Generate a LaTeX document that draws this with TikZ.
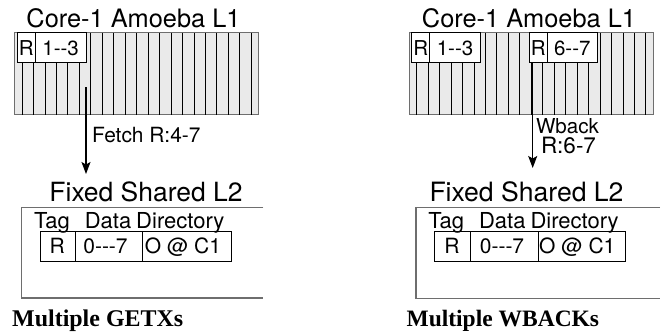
\documentclass[tikz,border=0pt]{standalone}
\usepackage{fontspec}
\usepackage{graphicx}
\setmainfont{Liberation Serif}
\newfontfamily\hv{TeX Gyre Heros}
\usetikzlibrary{arrows.meta}
\definecolor{stripefill}{HTML}{EAEAEA}
\definecolor{frame}{HTML}{6E6E6E}
\newcommand{\fitw}[2]{\resizebox{#1pt}{!}{\hv #2}}
\newcommand{\fitb}[2]{\resizebox{#1pt}{!}{\bfseries #2}}
\tikzset{
  x=1pt, y=-1pt,
  txt/.style={inner sep=0pt, outer sep=0pt, anchor=base},
  cellbox/.style={draw=black, line width=0.8pt, fill=white},
  stripes/.style={draw=frame, line width=0.8pt, fill=stripefill},
  stripeline/.style={draw=black, line width=0.7pt},
  l2frame/.style={draw=frame, line width=1.2pt},
  rowbox/.style={draw=black, line width=0.8pt},
  flow/.style={line width=1.3pt, -{Stealth[length=12pt, width=9pt, inset=2.5pt]}},
  caption/.style={inner sep=0pt, anchor=base west},
  headf/.style={font=\hv\fontsize{22}{24}\selectfont},
  rowf/.style={font=\hv\fontsize{21}{23}\selectfont},
  cellf/.style={font=\hv\fontsize{20.5}{22}\selectfont},
}
\begin{document}
\begin{tikzpicture}
\useasboundingbox (0,0) rectangle (662,333);

% ================= LEFT PANEL =================
\node[txt] (t1) at (133.5,27) {\fitw{214}{Core-1 Amoeba L1}};
\draw[stripes] (14.7,32.5) rectangle (258.3,114.5);
\foreach \k in {0,...,20} {
  \draw[stripeline] ({22+11.46*\k},32.5) -- ({22+11.46*\k},114.5);
}
\draw[cellbox] (17.3,32.5) rectangle (35.3,62);
\draw[cellbox] (35.3,32.5) rectangle (86,62);
\node[txt, cellf] (hR1) at (26.3,55) {R};
\node[txt, cellf] (h13) at (60.6,55) {1--3};

\coordinate (fs) at (86,87);
\coordinate (fe) at (86,174);
\draw[flow] (fs) -- (fe);
\node[txt, anchor=base west] (fetch) at (92,142.7) {\fitw{108.5}{Fetch R:4-7}};

\node[txt] (l2t1) at (146,201.5) {\fitw{193}{Fixed Shared L2}};
\draw[l2frame] (263.3,207.5) -- (21.7,207.5) -- (21.7,298) -- (263.3,298);
\node[txt, headf] (tag1) at (52,228.5) {Tag};
\node[txt, headf] (data1) at (108,228.5) {Data};
\node[txt, headf] (dir1) at (180.3,228.5) {Directory};
\draw[rowbox] (40,231) rectangle (231.7,261.5);
\draw[rowbox] (75,231) -- (75,261.5);
\draw[rowbox] (142.5,231) -- (142.5,261.5);
\node[txt, rowf] (r1) at (57.3,253) {R};
\node[txt, rowf] (d1) at (105.5,253) {0---7};
\node[txt, rowf] (o1) at (183,253) {O @ C1};

\node[caption] (cap1) at (12,326.7) {\fitb{171}{Multiple GETXs}};

% ================= RIGHT PANEL =================
\node[txt] (t2) at (529,27.5) {\fitw{214}{Core-1 Amoeba L1}};
\draw[stripes] (409.3,32.5) rectangle (653.3,114.5);
\foreach \k in {0,...,20} {
  \draw[stripeline] ({416.6+11.46*\k},32.5) -- ({416.6+11.46*\k},114.5);
}
\draw[cellbox] (411.7,32.5) rectangle (429.7,62);
\draw[cellbox] (429.7,32.5) rectangle (480.4,62);
\node[txt, cellf] (hR2) at (420.7,55) {R};
\node[txt, cellf] (h13b) at (455,55) {1--3};
\draw[cellbox] (529.3,32.5) rectangle (547.3,62);
\draw[cellbox] (547.3,32.5) rectangle (597.3,62);
\node[txt, cellf] (hR3) at (538.3,55) {R};
\node[txt, cellf] (h67) at (572.3,55) {6--7};

\coordinate (ws) at (532.7,62);
\coordinate (we) at (532.7,168);
\draw[flow] (ws) -- (we);
\node[txt, anchor=base west] (wb) at (536,133) {\fitw{63}{Wback}};
\node[txt, anchor=base west] (wr) at (541,153.3) {\fitw{55}{R:6-7}};

\node[txt] (l2t2) at (526.5,201) {\fitw{194}{Fixed Shared L2}};
\draw[l2frame] (660,207.7) -- (416,207.7) -- (416,298.3) -- (660,298.3);
\node[txt, headf] (tag2) at (446.3,228.5) {Tag};
\node[txt, headf] (data2) at (502.3,228.5) {Data};
\node[txt, headf] (dir2) at (574.6,228.5) {Directory};
\draw[rowbox] (434.3,231) rectangle (625.7,261.5);
\draw[rowbox] (470.7,231) -- (470.7,261.5);
\draw[rowbox] (538,231) -- (538,261.5);
\node[txt, rowf] (r2) at (452,253) {R};
\node[txt, rowf] (d2) at (502,253) {0---7};
\node[txt, rowf] (o2) at (577.3,253) {O @ C1};

\node[caption] (cap2) at (406.4,326.7) {\fitb{192.5}{Multiple WBACKs}};
\end{tikzpicture}
\end{document}
